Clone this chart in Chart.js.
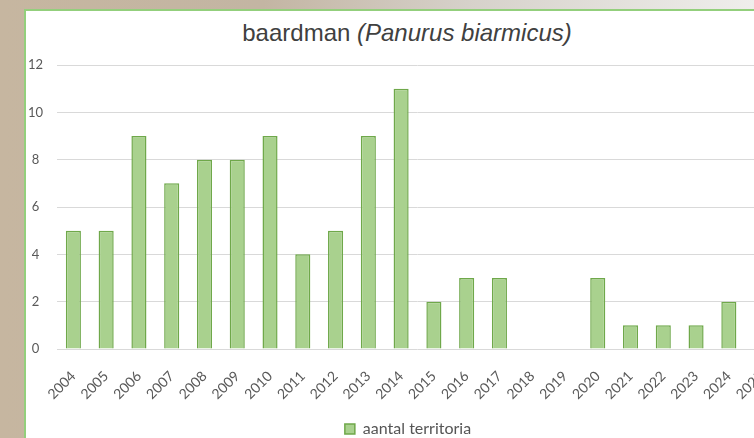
<!DOCTYPE html>
<html>
<head>
<meta charset="utf-8">
<script src="https://cdn.jsdelivr.net/npm/chart.js@4.4.1/dist/chart.umd.min.js"></script>
<style>
  html, body { margin: 0; padding: 0; width: 754px; height: 438px; overflow: hidden; }
  body {
    position: relative;
    background: linear-gradient(to right, #c6b6a0 0%, #c3b5a3 35%, #d6d1ca 62%, #efeeec 100%);
  }
  #panel {
    position: absolute; left: 24px; top: 9px; width: 820px; height: 500px;
    background: #fff;
    border-left: 2px solid #93cf7c;
    border-top: 2px solid #93cf7c;
  }
  #title {
    position: absolute; left: 0; top: 20px; width: 814px;
    text-align: center;
    font: 24px "Liberation Sans", Arial, sans-serif;
    line-height: 26px;
    color: #404040;
  }
  #wrap { position: absolute; left: 0; top: 0; width: 828px; height: 450px; }
</style>
</head>
<body>
<div id="panel"></div>
<div id="title">baardman <i>(Panurus biarmicus)</i></div>
<div id="wrap"><canvas id="chart" width="828" height="450"></canvas></div>
<script>
const years = ['2004', '2005', '2006', '2007', '2008', '2009', '2010', '2011', '2012', '2013', '2014',
               '2015', '2016', '2017', '2018', '2019', '2020', '2021', '2022', '2023', '2024', '2025'];
const territories = [5, 5, 9, 7, 8, 8, 9, 4, 5, 9, 11, 2, 3, 3, 0, 0, 3, 1, 1, 1, 2, 0];
const yMax = 12;
const yStep = 2;

// legend sits a little right of the plot centre in the original
const legendShift = {
    id: 'legendShift',
    afterLayout(chart) {
        chart.legend.left += 6;
        chart.legend.right += 6;
    }
};

const ctx = document.getElementById('chart').getContext('2d');

const chart = new Chart(ctx, {
    type: 'bar',
    data: {
        labels: years,
        datasets: [{
            label: 'aantal territoria',
            data: territories,
            backgroundColor: '#a9d18e',
            borderColor: '#6fa84a',
            borderWidth: 1.5,
            categoryPercentage: 1,
            barPercentage: 0.46
        }]
    },
    options: {
        responsive: false,
        animation: false,
        layout: {
            padding: { left: 26, right: 50, top: 65, bottom: 3 }
        },
        plugins: {
            title: { display: false },
            tooltip: { enabled: false },
            legend: {
                position: 'bottom',
                labels: {
                    boxWidth: 10,
                    boxHeight: 10,
                    padding: 10,
                    color: '#555555',
                    font: { family: 'Lato', size: 16 }
                }
            }
        },
        scales: {
            x: {
                grid: { display: false },
                border: { display: false },
                ticks: {
                    minRotation: 45,
                    maxRotation: 45,
                    padding: 11,
                    color: '#595959',
                    font: { family: 'Lato', size: 14 }
                },
                afterFit: function(scale) { scale.height = 62; }
            },
            y: {
                min: 0,
                max: yMax,
                grid: { color: '#d9d9d9', lineWidth: 1, drawTicks: false },
                border: { display: false },
                ticks: {
                    stepSize: yStep,
                    padding: 14,
                    crossAlign: 'center',
                    color: '#595959',
                    font: { family: 'Lato', size: 13 }
                },
                afterFit: function(scale) { scale.width = 31; }
            }
        }
    },
    plugins: [legendShift]
});
</script>
</body>
</html>
